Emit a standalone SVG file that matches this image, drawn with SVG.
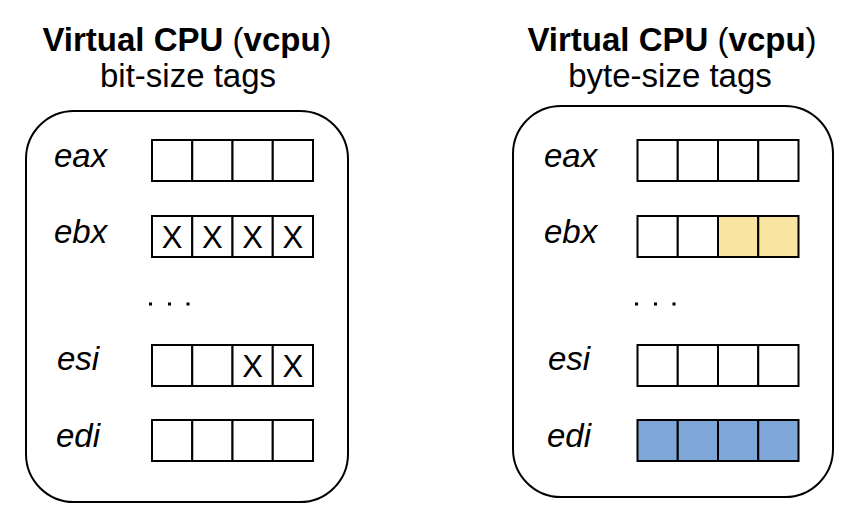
<svg xmlns="http://www.w3.org/2000/svg" width="862" height="530" viewBox="0 0 862 530">
<style>
.title{font-family:"Liberation Sans",Arial,sans-serif;font-size:33px;text-anchor:middle;fill:#000}
.b{font-weight:bold}
.lbl{font-family:"Liberation Sans",Arial,sans-serif;font-size:33px;font-style:italic;fill:#000}
.x{font-family:"Liberation Sans",Arial,sans-serif;font-size:31px;text-anchor:middle;fill:#000}
.box{fill:#fff;stroke:#000;stroke-width:2}
.c{fill:#fff;stroke:#000;stroke-width:2}
.y{fill:#f9e4a1}
.bl{fill:#7ea7d8}
.dot{fill:#000}
</style>
<rect width="862" height="530" fill="#fff"/>
<g id="left-panel">
<text class="title" x="187" y="51"><tspan class="b">Virtual CPU </tspan>(<tspan class="b">vcpu</tspan>)</text>
<text class="title" x="188" y="87">bit-size tags</text>
<rect class="box" x="26" y="111" width="322" height="391" rx="48"/>
<g id="l-eax">
<text class="lbl" x="54" y="167">eax</text>
<rect class="c" x="152" y="140" width="40.25" height="41"/>
<rect class="c" x="192.25" y="140" width="40.25" height="41"/>
<rect class="c" x="232.5" y="140" width="40.25" height="41"/>
<rect class="c" x="272.75" y="140" width="40.25" height="41"/>
</g>
<g id="l-ebx">
<text class="lbl" x="54" y="243">ebx</text>
<rect class="c" x="152" y="216" width="40.25" height="41"/>
<rect class="c" x="192.25" y="216" width="40.25" height="41"/>
<rect class="c" x="232.5" y="216" width="40.25" height="41"/>
<rect class="c" x="272.75" y="216" width="40.25" height="41"/>
<text class="x" x="172.1" y="248">X</text>
<text class="x" x="212.4" y="248">X</text>
<text class="x" x="252.6" y="248">X</text>
<text class="x" x="292.9" y="248">X</text>
</g>
<g id="l-dots">
<rect class="dot" x="149" y="302.5" width="3" height="3"/>
<rect class="dot" x="168" y="302.5" width="3" height="3"/>
<rect class="dot" x="186.5" y="302.5" width="3" height="3"/>
</g>
<g id="l-esi">
<text class="lbl" x="57" y="370">esi</text>
<rect class="c" x="152" y="345" width="40.25" height="41"/>
<rect class="c" x="192.25" y="345" width="40.25" height="41"/>
<rect class="c" x="232.5" y="345" width="40.25" height="41"/>
<rect class="c" x="272.75" y="345" width="40.25" height="41"/>
<text class="x" x="252.6" y="377">X</text>
<text class="x" x="292.9" y="377">X</text>
</g>
<g id="l-edi">
<text class="lbl" x="56" y="447">edi</text>
<rect class="c" x="152" y="420" width="40.25" height="41"/>
<rect class="c" x="192.25" y="420" width="40.25" height="41"/>
<rect class="c" x="232.5" y="420" width="40.25" height="41"/>
<rect class="c" x="272.75" y="420" width="40.25" height="41"/>
</g>
</g>
<g id="right-panel">
<text class="title" x="672" y="51"><tspan class="b">Virtual CPU </tspan>(<tspan class="b">vcpu</tspan>)</text>
<text class="title" x="670" y="87">byte-size tags</text>
<rect class="box" x="513" y="106" width="320" height="391" rx="48"/>
<g id="r-eax">
<text class="lbl" x="544" y="167">eax</text>
<rect class="c" x="637.5" y="140" width="40.25" height="41"/>
<rect class="c" x="677.75" y="140" width="40.25" height="41"/>
<rect class="c" x="718" y="140" width="40.25" height="41"/>
<rect class="c" x="758.25" y="140" width="40.25" height="41"/>
</g>
<g id="r-ebx">
<text class="lbl" x="544" y="243">ebx</text>
<rect class="c" x="637.5" y="216" width="40.25" height="41"/>
<rect class="c" x="677.75" y="216" width="40.25" height="41"/>
<rect class="c y" x="718" y="216" width="40.25" height="41"/>
<rect class="c y" x="758.25" y="216" width="40.25" height="41"/>
</g>
<g id="r-dots">
<rect class="dot" x="635" y="302.5" width="3" height="3"/>
<rect class="dot" x="654" y="302.5" width="3" height="3"/>
<rect class="dot" x="672.5" y="302.5" width="3" height="3"/>
</g>
<g id="r-esi">
<text class="lbl" x="548" y="370">esi</text>
<rect class="c" x="637.5" y="345" width="40.25" height="41"/>
<rect class="c" x="677.75" y="345" width="40.25" height="41"/>
<rect class="c" x="718" y="345" width="40.25" height="41"/>
<rect class="c" x="758.25" y="345" width="40.25" height="41"/>
</g>
<g id="r-edi">
<text class="lbl" x="547" y="447">edi</text>
<rect class="c bl" x="637.5" y="420" width="40.25" height="41"/>
<rect class="c bl" x="677.75" y="420" width="40.25" height="41"/>
<rect class="c bl" x="718" y="420" width="40.25" height="41"/>
<rect class="c bl" x="758.25" y="420" width="40.25" height="41"/>
</g>
</g>
<g id="connectors"/>
</svg>
